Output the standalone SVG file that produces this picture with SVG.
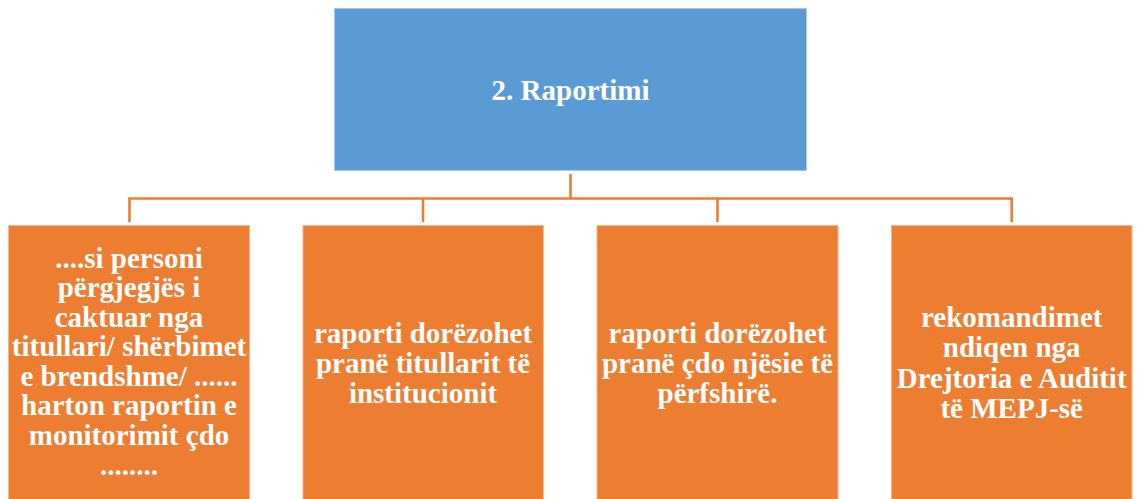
<svg xmlns="http://www.w3.org/2000/svg" width="1141" height="499" viewBox="0 0 1141 499">
<style>
.t{font-family:'Liberation Serif','DejaVu Serif',serif;font-weight:700;font-size:29px;fill:#FFFFFF;text-anchor:middle}
.blue{fill:#5B9BD5;stroke:#A9C9EA;stroke-width:1}
.or{fill:#ED7D31;stroke:#F4B48C;stroke-width:1}
.c{fill:none;stroke:#ED7D31;stroke-width:2.6}
</style>
<rect width="1141" height="499" fill="#FFFFFF"/>
<g id="connectors">
<path class="c" d="M570.5,174 V198.5"/>
<path class="c" d="M129.5,222 V198.5 H1011.7 V222"/>
<path class="c" d="M423,198.5 V222"/>
<path class="c" d="M717.5,198.5 V222"/>
</g>
<g id="node-top">
<rect class="blue" x="334.5" y="8.5" width="472" height="162"/>
<text class="t" x="570.5" y="99.5">2. Raportimi</text>
</g>
<g id="node-1">
<rect class="or" x="8.5" y="225.5" width="241" height="280"/>
<text class="t" x="129" y="267.5">....si personi</text>
<text class="t" x="129" y="297">përgjegjës i</text>
<text class="t" x="129" y="326.5">caktuar nga</text>
<text class="t" x="129" y="356">titullari/ shërbimet</text>
<text class="t" x="129" y="385.5">e brendshme/ ......</text>
<text class="t" x="129" y="415">harton raportin e</text>
<text class="t" x="129" y="444.5">monitorimit çdo</text>
<text class="t" x="129" y="475">........</text>
</g>
<g id="node-2">
<rect class="or" x="303" y="225.5" width="240.5" height="280"/>
<text class="t" x="423" y="343">raporti dorëzohet</text>
<text class="t" x="423" y="373">pranë titullarit të</text>
<text class="t" x="423" y="403">institucionit</text>
</g>
<g id="node-3">
<rect class="or" x="597" y="225.5" width="241" height="280"/>
<text class="t" x="717.5" y="343">raporti dorëzohet</text>
<text class="t" x="717.5" y="373">pranë çdo njësie të</text>
<text class="t" x="717.5" y="403">përfshirë.</text>
</g>
<g id="node-4">
<rect class="or" x="891.5" y="225.5" width="240.5" height="280"/>
<text class="t" x="1011.7" y="327">rekomandimet</text>
<text class="t" x="1011.7" y="357">ndiqen nga</text>
<text class="t" x="1011.7" y="387.5">Drejtoria e Auditit</text>
<text class="t" x="1011.7" y="417.5">të MEPJ-së</text>
</g>
</svg>
